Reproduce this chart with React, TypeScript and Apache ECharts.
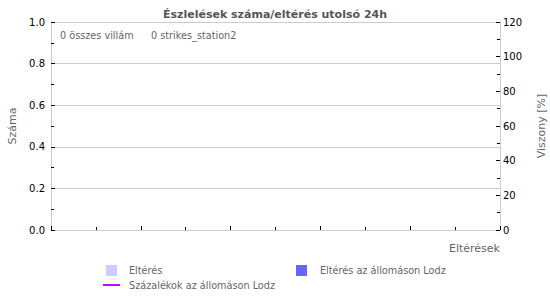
import React, { useEffect, useRef } from "react";
import * as echarts from "echarts";

// Strike statistics for the last 24 hours (no detections in this period)
const seriesNames = [
  "Eltérés",
  "Eltérés az állomáson Lodz",
  "Százalékok az állomáson Lodz",
];
const deviationAll: [number, number][] = [];
const deviationStation: [number, number][] = [];
const percentStation: [number, number][] = [];
const strikeCounts = [0, 0];
const strikeLabels = ["összes villám", "strikes_station2"];

const FONT = "DejaVu Sans";
const GRAY = "#666";
const SMALL = 9.7;

export default function App() {
  const ref = useRef<HTMLDivElement>(null);

  useEffect(() => {
    if (!ref.current) return;
    const chart = echarts.init(ref.current, null, { renderer: "svg" });

    const legendBase = {
      orient: "horizontal" as const,
      icon: "rect",
      selectedMode: false,
      padding: 0,
      textStyle: { fontFamily: FONT, fontSize: SMALL, color: GRAY },
    };

    chart.setOption({
      animation: false,
      backgroundColor: "#fff",
      title: {
        text: "Észlelések száma/eltérés utolsó 24h",
        left: "center",
        top: 4,
        textStyle: { fontFamily: FONT, fontSize: 11, fontWeight: "bold", color: "#555" },
      },
      grid: {
        left: 51,
        right: 50,
        top: 22,
        bottom: 70,
        containLabel: false,
        outerBoundsMode: "none",
      },
      legend: [
        {
          ...legendBase,
          data: [{ name: seriesNames[0] }],
          left: 106,
          top: 265,
          itemWidth: 11,
          itemHeight: 11,
          textStyle: { ...legendBase.textStyle, padding: [0, 0, 0, 7] },
        },
        {
          ...legendBase,
          data: [{ name: seriesNames[1] }],
          left: 296,
          top: 265,
          itemWidth: 11,
          itemHeight: 11,
          textStyle: { ...legendBase.textStyle, padding: [0, 0, 0, 8] },
        },
        {
          ...legendBase,
          data: [{ name: seriesNames[2], icon: "rect" }],
          left: 103,
          top: 280,
          itemWidth: 17,
          itemHeight: 2,
          textStyle: { ...legendBase.textStyle, padding: [0, 0, 0, 4] },
        },
      ],
      graphic: strikeLabels.map((label, i) => ({
        type: "text",
        left: i === 0 ? 60 : 151,
        top: 30,
        style: {
          text: `${strikeCounts[i]} ${label}`,
          fontFamily: FONT,
          fontSize: SMALL,
          fill: GRAY,
        },
      })),
      xAxis: {
        type: "value",
        min: 0,
        max: 10,
        interval: 2,
        name: "Eltérések",
        nameLocation: "end",
        nameGap: 0,
        nameTextStyle: {
          fontFamily: FONT,
          fontSize: 11,
          color: GRAY,
          align: "right",
          verticalAlign: "top",
          padding: [13, 0, 0, 0],
        },
        axisLine: { lineStyle: { color: "#ccc" } },
        axisTick: { inside: true, length: 4, lineStyle: { color: "#000" } },
        minorTick: { show: true, splitNumber: 2, length: 3, lineStyle: { color: "#000" } },
        axisLabel: { show: false },
        splitLine: { show: false },
      },
      yAxis: [
        {
          type: "value",
          min: 0,
          max: 1,
          interval: 0.2,
          name: "Száma",
          nameLocation: "middle",
          nameGap: 33,
          nameTextStyle: { fontFamily: FONT, fontSize: 11, color: GRAY },
          axisLine: { show: true, lineStyle: { color: "#ccc" } },
          axisTick: { show: true, inside: true, length: 4, lineStyle: { color: "#000" } },
          minorTick: { show: true, splitNumber: 2, length: 3, lineStyle: { color: "#000" } },
          axisLabel: {
            fontFamily: FONT,
            fontSize: 10,
            color: "#000",
            margin: 6,
            formatter: (v: number) => v.toFixed(1),
          },
          splitLine: { show: true, lineStyle: { color: "#ccc" } },
        },
        {
          type: "value",
          min: 0,
          max: 120,
          interval: 20,
          position: "right",
          name: "Viszony [%]",
          nameLocation: "middle",
          nameGap: 36,
          nameTextStyle: { fontFamily: FONT, fontSize: 11, color: GRAY },
          axisLine: { show: true, lineStyle: { color: "#ccc" } },
          axisTick: { show: true, inside: true, length: 4, lineStyle: { color: "#000" } },
          minorTick: { show: true, splitNumber: 2, length: 3, lineStyle: { color: "#000" } },
          axisLabel: { fontFamily: FONT, fontSize: 10, color: "#000", margin: 3 },
          splitLine: { show: false },
        },
      ],
      series: [
        {
          name: seriesNames[0],
          type: "bar",
          yAxisIndex: 0,
          itemStyle: { color: "#ccccff" },
          data: deviationAll,
        },
        {
          name: seriesNames[1],
          type: "bar",
          yAxisIndex: 0,
          itemStyle: { color: "#6666ff" },
          data: deviationStation,
        },
        {
          name: seriesNames[2],
          type: "line",
          yAxisIndex: 1,
          symbol: "none",
          itemStyle: { color: "#cc00ff" },
          lineStyle: { color: "#cc00ff", width: 2 },
          data: percentStation,
        },
      ],
    });

    return () => chart.dispose();
  }, []);

  return (
    <div
      ref={ref}
      style={{ position: "fixed", left: 0, top: 0, width: 550, height: 300 }}
    />
  );
}
